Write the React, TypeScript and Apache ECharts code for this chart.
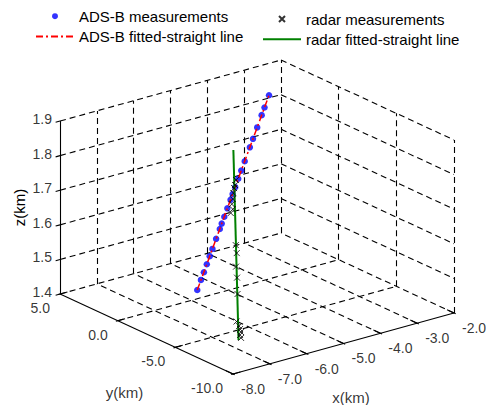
import React, { useEffect, useRef } from "react";
import * as echarts from "echarts";

// ---------- axis ticks ----------
const xTicks = [-8, -7, -6, -5, -4, -3, -2];
const xTickLabels = ["-8.0", "-7.0", "-6.0", "-5.0", "-4.0", "-3.0", "-2.0"];
const yTicks = [5, 0, -5, -10];
const yTickLabels = ["5.0", "0.0", "-5.0", "-10.0"];
const zTicks = [1.4, 1.5, 1.6, 1.7, 1.8, 1.9];
const zTickLabels = ["1.4", "1.5", "1.6", "1.7", "1.8", "1.9"];

// ---------- ADS-B measurements (km) ----------
const adsbX = [-5.52, -5.391, -5.287, -5.184, -5.081, -4.985, -4.856, -4.726, -4.658, -4.567, -4.46, -4.347, -4.274, -4.183, -4.076, -3.969, -3.847, -3.666, -3.555, -3.407, -3.249, -3.149, -2.99];
const adsbY = [1.02, 1.115, 1.191, 1.267, 1.343, 1.414, 1.508, 1.603, 1.654, 1.72, 1.799, 1.882, 1.936, 2.003, 2.082, 2.161, 2.25, 2.383, 2.465, 2.573, 2.69, 2.763, 2.88];
const adsbZ = [1.4, 1.424, 1.442, 1.461, 1.48, 1.497, 1.521, 1.544, 1.557, 1.573, 1.593, 1.613, 1.627, 1.643, 1.663, 1.682, 1.704, 1.737, 1.757, 1.784, 1.813, 1.831, 1.86];

// ADS-B fitted straight line (end points)
const adsbFitX = [-5.52, -2.99];
const adsbFitY = [1.02, 2.88];
const adsbFitZ = [1.4, 1.86];

// ---------- radar measurements (km) ----------
const radarX = [-5.637, -5.687, -5.726, -5.771, -5.818, -5.872, -5.888, -5.948, -6.076, -6.111, -6.214, -6.271, -6.369, -6.569, -6.557, -6.558, -6.563, -6.598, -6.6];
const radarY = [-2.719, -2.792, -2.83, -2.913, -3.01, -3.095, -3.233, -3.25, -4.093, -4.29, -4.56, -4.828, -5.184, -5.738, -5.913, -6.004, -6.107, -6.134, -6.225];
const radarZ = [1.779, 1.767, 1.76, 1.748, 1.734, 1.722, 1.71, 1.701, 1.625, 1.606, 1.574, 1.548, 1.509, 1.444, 1.433, 1.426, 1.419, 1.412, 1.405];

// radar fitted straight line (end points)
const radarFitX = [-6.657, -5.485];
const radarFitY = [-6.191, -1.999];
const radarFitZ = [1.4, 1.85];

// ---------- layout (orthographic view) ----------
const W = 487;
const H = 405;
const ORIGIN = [233, 374]; // pixel of the front-bottom corner
const EX = [36.83, 10.17]; // per 1 km of x
const EY = [-11.53, 5.33]; // per 1 km of y
const EZ = [0, 346]; // per 1 km of z
const FONT = "'Liberation Sans', Arial, Helvetica, sans-serif";
const FS = 15;
const TICK_FS = 14;

const xMin = Math.min(...xTicks);
const xMax = Math.max(...xTicks);
const yMin = Math.min(...yTicks);
const yMax = Math.max(...yTicks);
const zMin = Math.min(...zTicks);
const zMax = Math.max(...zTicks);

type P3 = [number, number, number];

function proj(x: number, y: number, z: number): [number, number] {
  const a = x - xMin;
  const b = y - yMin;
  const c = z - zMin;
  return [a * EX[0] + b * EY[0] + c * EZ[0], a * EX[1] + b * EY[1] + c * EZ[1]];
}

function seg(p: P3, q: P3) {
  return { coords: [proj(p[0], p[1], p[2]), proj(q[0], q[1], q[2])] };
}

function buildOption() {
  const dashed: any[] = [];
  // back wall (y = yMax)
  zTicks.filter((z) => z !== zMin).forEach((z) => dashed.push(seg([xMin, yMax, z], [xMax, yMax, z])));
  xTicks.filter((x) => x !== xMin).forEach((x) => dashed.push(seg([x, yMax, zMin], [x, yMax, zMax])));
  // right wall (x = xMax)
  zTicks.filter((z) => z !== zMin).forEach((z) => dashed.push(seg([xMax, yMax, z], [xMax, yMin, z])));
  yTicks.filter((y) => y !== yMax).forEach((y) => dashed.push(seg([xMax, y, zMin], [xMax, y, zMax])));
  // floor (z = zMin)
  xTicks.filter((x) => x !== xMin).forEach((x) => dashed.push(seg([x, yMin, zMin], [x, yMax, zMin])));
  yTicks.filter((y) => y !== yMin).forEach((y) => dashed.push(seg([xMin, y, zMin], [xMax, y, zMin])));

  const solid: any[] = [
    seg([xMin, yMin, zMin], [xMax, yMin, zMin]),
    seg([xMin, yMin, zMin], [xMin, yMax, zMin]),
    seg([xMin, yMax, zMin], [xMin, yMax, zMax]),
  ];
  xTicks.forEach((x) => solid.push(seg([x, yMin - 0.15, zMin], [x, yMin + 0.6, zMin])));
  yTicks.forEach((y) => solid.push(seg([xMin - 0.05, y, zMin], [xMin + 0.2, y, zMin])));
  zTicks.forEach((z) => solid.push(seg([xMin - 0.12, yMax, z], [xMin, yMax, z])));

  const labelSeries = (data: any[], align: string, offset: number[], fs = TICK_FS) => ({
    type: "scatter",
    data,
    symbol: "circle",
    symbolSize: 1,
    silent: true,
    z: 5,
    itemStyle: { color: "rgba(0,0,0,0)" },
    label: {
      show: true,
      position: "inside",
      align,
      verticalAlign: "middle",
      offset,
      color: "#000",
      fontSize: fs,
      lineHeight: 13,
      fontFamily: FONT,
      formatter: (p: any) => p.data[2],
    },
    tooltip: { show: false },
  });

  const xLabelData = xTicks.map((x, i) => [...proj(x, yMin, zMin), xTickLabels[i]]);
  const yLabelData = yTicks.map((y, i) => [...proj(xMin, y, zMin), yTickLabels[i]]);
  const zLabelData = zTicks.map((z, i) => [...proj(xMin, yMax, z), zTickLabels[i]]);

  const zTitleAnchor = proj(xMin, yMax, (zMin + zMax) / 2);

  const legendCommon = {
    orient: "vertical",
    itemWidth: 38,
    itemHeight: 6,
    padding: 0,
    selectedMode: false,
    textStyle: { color: "#000", fontSize: FS, fontFamily: FONT, lineHeight: 14 },
  };

  return {
    animation: false,
    backgroundColor: "#ffffff",
    grid: { left: 0, right: 0, top: 0, bottom: 0, containLabel: false },
    xAxis: { type: "value", min: -ORIGIN[0], max: W - ORIGIN[0], show: false },
    yAxis: { type: "value", min: -(H - ORIGIN[1]), max: ORIGIN[1], show: false },
    legend: [
      {
        ...legendCommon,
        left: 35,
        top: 8.7,
        itemGap: 5.3,
        data: [{ name: "ADS-B measurements", icon: "circle" }, { name: "ADS-B fitted-straight line" }],
      },
      {
        ...legendCommon,
        left: 262,
        top: 11.5,
        itemGap: 5.2,
        data: [{ name: "radar measurements" }, { name: "radar fitted-straight line" }],
      },
    ],
    graphic: [
      {
        type: "text",
        x: ORIGIN[0] + zTitleAnchor[0] - 41,
        y: ORIGIN[1] - zTitleAnchor[1],
        rotation: Math.PI / 2,
        silent: true,
        style: {
          text: "z(km)",
          fill: "#000",
          fontSize: FS,
          fontFamily: FONT,
          align: "center",
          verticalAlign: "middle",
        },
      },
    ],
    series: [
      {
        type: "lines",
        coordinateSystem: "cartesian2d",
        silent: true,
        z: 1,
        data: dashed,
        lineStyle: { color: "#000", width: 1.1, type: [6, 4], opacity: 1, curveness: 0 },
      },
      {
        type: "lines",
        coordinateSystem: "cartesian2d",
        silent: true,
        z: 2,
        data: solid,
        lineStyle: { color: "#000", width: 1.1, type: "solid", opacity: 1, curveness: 0 },
      },
      {
        name: "ADS-B measurements",
        type: "scatter",
        z: 3,
        symbol: "circle",
        symbolSize: 6.5,
        itemStyle: { color: "#0000ff" },
        data: adsbX.map((x, i) => proj(x, adsbY[i], adsbZ[i])),
      },
      {
        name: "ADS-B fitted-straight line",
        type: "line",
        z: 4,
        symbol: "none",
        itemStyle: { color: "rgba(0,0,0,0)", borderWidth: 0 },
        lineStyle: { color: "#ff0000", width: 1.5, type: [7, 3, 2, 3] },
        data: adsbFitX.map((x, i) => proj(x, adsbFitY[i], adsbFitZ[i])),
      },
      {
        name: "radar fitted-straight line",
        type: "line",
        z: 4,
        symbol: "none",
        itemStyle: { color: "rgba(0,0,0,0)", borderWidth: 0 },
        lineStyle: { color: "#008000", width: 2, type: "solid" },
        data: radarFitX.map((x, i) => proj(x, radarFitY[i], radarFitZ[i])),
      },
      {
        name: "radar measurements",
        type: "scatter",
        z: 4,
        symbol: "path://M0,0L10,10M10,0L0,10",
        symbolSize: 6,
        itemStyle: { color: "none", borderColor: "#000", borderWidth: 1 },
        data: radarX.map((x, i) => proj(x, radarY[i], radarZ[i])),
      },
      labelSeries(xLabelData, "left", [8, 15]),
      labelSeries(yLabelData, "right", [-10, 14]),
      labelSeries(zLabelData, "right", [-8, -2]),
      labelSeries([[...proj(xMin, (yMin + yMax) / 2, zMin), "y(km)"]], "center", [-22, 58], FS),
      labelSeries([[...proj((xMin + xMax) / 2, yMin, zMin), "x(km)"]], "center", [7.5, 54], FS),
    ],
  };
}

export default function App() {
  const ref = useRef<HTMLDivElement>(null);
  useEffect(() => {
    if (!ref.current) return;
    const chart = echarts.init(ref.current, undefined, { renderer: "svg" });
    chart.setOption(buildOption() as any);
    return () => chart.dispose();
  }, []);
  return (
    <div
      ref={ref}
      style={{ position: "absolute", left: 0, top: 0, width: W, height: H, background: "#fff" }}
    />
  );
}
